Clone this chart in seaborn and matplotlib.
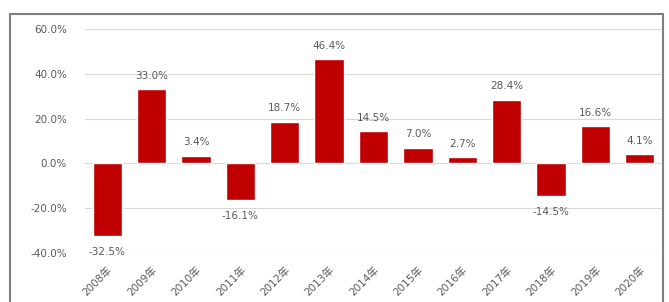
import matplotlib
matplotlib.use("Agg")
import matplotlib.pyplot as plt
import seaborn as sns
import pandas as pd
from matplotlib.patches import Rectangle

years = ["2008年", "2009年", "2010年", "2011年", "2012年", "2013年", "2014年",
         "2015年", "2016年", "2017年", "2018年", "2019年", "2020年"]
returns = [-32.5, 33.0, 3.4, -16.1, 18.7, 46.4, 14.5, 7.0, 2.7, 28.4, -14.5, 16.6, 4.1]
yticks = [-40, -20, 0, 20, 40, 60]

sns.set_theme(style="white")
plt.rcParams['font.family'] = ['DejaVu Sans', 'Noto Sans CJK SC']

df = pd.DataFrame({"year": years, "ret": returns})

fig = plt.figure(figsize=(6.69, 3.02), dpi=100)
ax = fig.add_axes([0.127, 0.162, 0.8625, 0.742])

sns.barplot(data=df, x="year", y="ret", color="#C00000", saturation=1,
            width=0.66, ax=ax, zorder=3)

txt = "#595959"
ax.set_ylim(-40, 60)
ax.set_xlim(-0.5, len(years) - 0.5)
ax.set_yticks(yticks)
ax.set_yticklabels([f"{v:.1f}%" for v in yticks], fontsize=7.5, color=txt)
ax.set_xticks(range(len(years)))
ax.set_xticklabels(years, rotation=45, ha="right", rotation_mode="anchor",
                   fontsize=7.5, color=txt)
ax.tick_params(axis="y", length=0, pad=13)
ax.tick_params(axis="x", length=0, pad=8)
ax.set_xlabel("")
ax.set_ylabel("")
for s in ax.spines.values():
    s.set_visible(False)
ax.yaxis.grid(True, color="#D9D9D9", linewidth=0.8, zorder=0)
ax.set_axisbelow(True)

for i, v in enumerate(returns):
    if v >= 0:
        ax.annotate(f"{v:.1f}%", (i, v), xytext=(0, 6), textcoords="offset points",
                    ha="center", va="bottom", fontsize=7.5, color=txt)
    else:
        ax.annotate(f"{v:.1f}%", (i, v), xytext=(0, -8), textcoords="offset points",
                    ha="center", va="top", fontsize=7.5, color=txt)

fig.patches.append(Rectangle((10 / 669, -0.1), (663 - 10) / 669, 1.1 - 14 / 302,
                             transform=fig.transFigure, fill=False,
                             edgecolor="#7F7F7F", linewidth=1.5))

fig.savefig("out.png", dpi=100, facecolor="white")
